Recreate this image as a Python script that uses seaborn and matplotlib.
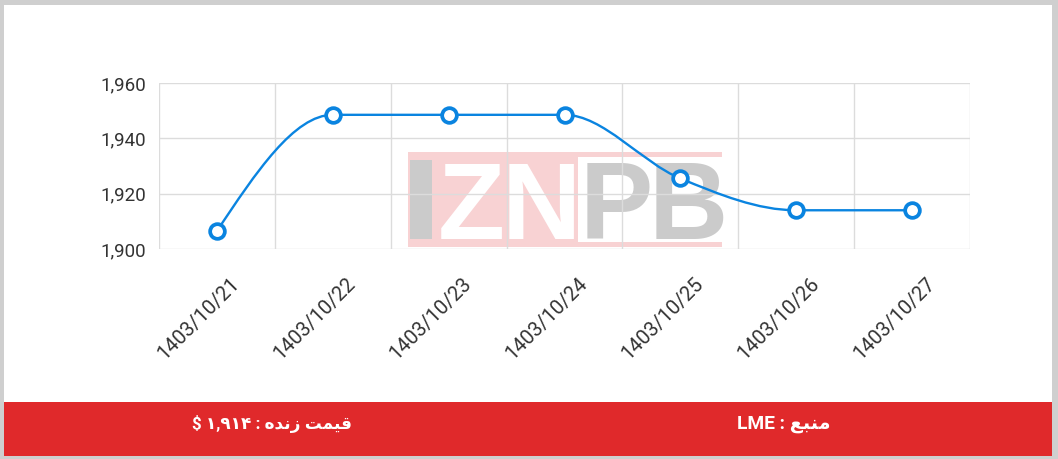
import numpy as np
import pandas as pd
import matplotlib
matplotlib.use("Agg")
import matplotlib.pyplot as plt
import seaborn as sns
from matplotlib.path import Path
from matplotlib.patches import PathPatch, Rectangle
from matplotlib.transforms import ScaledTranslation

# ---- data ----
dates = ["1403/10/21", "1403/10/22", "1403/10/23", "1403/10/24",
         "1403/10/25", "1403/10/26", "1403/10/27"]
prices = [1906.5, 1948.5, 1948.5, 1948.5, 1925.5, 1914.0, 1914.0]
y_ticks = [1900, 1920, 1940, 1960]
y_tick_labels = ["1,900", "1,920", "1,940", "1,960"]
# footer labels, pre-shaped (Arabic presentation forms, visual order)
source_label = "LME : \uFECA\uFE92\uFEE8\uFEE3"                       # منبع : LME
live_label = "$ \u06F1,\u06F9\u06F1\u06F4 : \uFEE9\uFEAA\uFEE7\uFEAF \uFE96\uFEE4\uFEF4\uFED7"  # قیمت زنده : ۱,۹۱۴ $

W, H = 1058, 459
LINE = "#0a84e0"

sns.set_theme(style="white")
plt.rcParams["font.family"] = ["Roboto", "DejaVu Sans"]

fig = plt.figure(figsize=(W / 100, H / 100), dpi=100)
fig.patch.set_facecolor("#cfcfcf")

def fx(px):
    return px / W

def fy(py):
    return 1 - py / H

# white panel and red footer
fig.patches.append(Rectangle((fx(4), fy(456)), fx(1052) - fx(4), fy(5) - fy(456),
                             transform=fig.transFigure, facecolor="white",
                             edgecolor="none", zorder=-10))
fig.patches.append(Rectangle((fx(4), fy(456)), fx(1052) - fx(4), fy(402) - fy(456),
                             transform=fig.transFigure, facecolor="#e0292b",
                             edgecolor="none", zorder=-9))

ax = fig.add_axes([fx(159), fy(249), fx(970) - fx(159), fy(83) - fy(249)])
ax.set_facecolor("none")

df = pd.DataFrame({"x": np.arange(len(dates)), "price": prices})

# smooth (monotone-x) line through the data points
xs = df["x"].to_numpy(dtype=float)
ys = df["price"].to_numpy(dtype=float)
n = len(xs)
h = np.diff(xs)
s = np.diff(ys) / h
t = np.zeros(n)
for i in range(1, n - 1):
    s0, s1 = s[i - 1], s[i]
    p = (s0 * h[i] + s1 * h[i - 1]) / (h[i - 1] + h[i])
    t[i] = (np.sign(s0) + np.sign(s1)) * min(abs(s0), abs(s1), 0.5 * abs(p))
t[0] = (3 * s[0] - t[1]) / 2
t[-1] = (3 * s[-1] - t[-2]) / 2
verts = [(xs[0], ys[0])]
codes = [Path.MOVETO]
for i in range(n - 1):
    dx = (xs[i + 1] - xs[i]) / 3
    verts += [(xs[i] + dx, ys[i] + dx * t[i]),
              (xs[i + 1] - dx, ys[i + 1] - dx * t[i + 1]),
              (xs[i + 1], ys[i + 1])]
    codes += [Path.CURVE4] * 3
ax.add_patch(PathPatch(Path(verts, codes), facecolor="none", edgecolor=LINE,
                       linewidth=1.7, zorder=3, capstyle="round"))

sns.scatterplot(data=df, x="x", y="price", ax=ax, s=112, marker="o",
                facecolor="white", edgecolor=LINE, linewidth=2.7, zorder=4,
                clip_on=False, legend=False)

ax.set_xlim(-0.5, n - 0.5)
ax.set_ylim(1900, 1960)
ax.set_xlabel("")
ax.set_ylabel("")
for sp in ax.spines.values():
    sp.set_visible(False)

# grid
for gx in np.arange(-0.5, n, 1.0):
    ax.axvline(gx, color="#dcdcdc", linewidth=1, zorder=1)
for gy in y_ticks:
    ax.axhline(gy, color="#dcdcdc", linewidth=1, zorder=1)

ax.set_yticks(y_ticks)
ax.set_yticklabels(y_tick_labels)
ax.tick_params(axis="y", length=0, pad=9, labelsize=13.5, labelcolor="#333333")
ax.set_xticks(xs)
ax.set_xticklabels(dates)
ax.tick_params(axis="x", length=0, pad=23, labelsize=14.5, labelcolor="#333333")
offset = ScaledTranslation(20 / 100, 0, fig.dpi_scale_trans)
for lab in ax.get_xticklabels():
    lab.set_rotation(45)
    lab.set_ha("right")
    lab.set_va("center")
    lab.set_rotation_mode("anchor")
    lab.set_transform(lab.get_transform() + offset)

# watermark logo
tf = fig.transFigure
pink = "#f8d2d3"
grey = "#cbcbcb"
def frect(x0, y0, x1, y1, color, z=0.2):
    ax.add_patch(Rectangle((fx(x0), fy(y1)), fx(x1) - fx(x0), fy(y0) - fy(y1),
                           transform=tf, facecolor=color, edgecolor="none",
                           zorder=z, clip_on=False))
frect(408, 152, 578, 247, pink)
frect(578, 152, 722, 157, pink)
frect(578, 242, 722, 247, pink)
frect(410, 160, 432, 239, grey, 0.3)
letters = [("Z", 471, "white"), ("N", 541, "white"), ("P", 616, grey), ("B", 688, grey)]
for ch, cx, col in letters:
    ax.text(fx(cx), fy(239), ch, transform=tf, ha="center", va="baseline",
            fontsize=79, fontweight="bold", color=col,
            family=["Liberation Sans", "DejaVu Sans"], zorder=0.3, clip_on=False)

# footer texts
fig.text(fx(784), fy(424), source_label, ha="center", va="center",
         fontsize=13.8, fontweight="bold", color="white",
         family=["Roboto", "DejaVu Sans"], zorder=5)
fig.text(fx(272), fy(424), live_label, ha="center", va="center",
         fontsize=12.2, fontweight="bold", color="white",
         family=["Roboto", "DejaVu Sans"], zorder=5)

fig.savefig("out.png", dpi=100, facecolor=fig.get_facecolor())
